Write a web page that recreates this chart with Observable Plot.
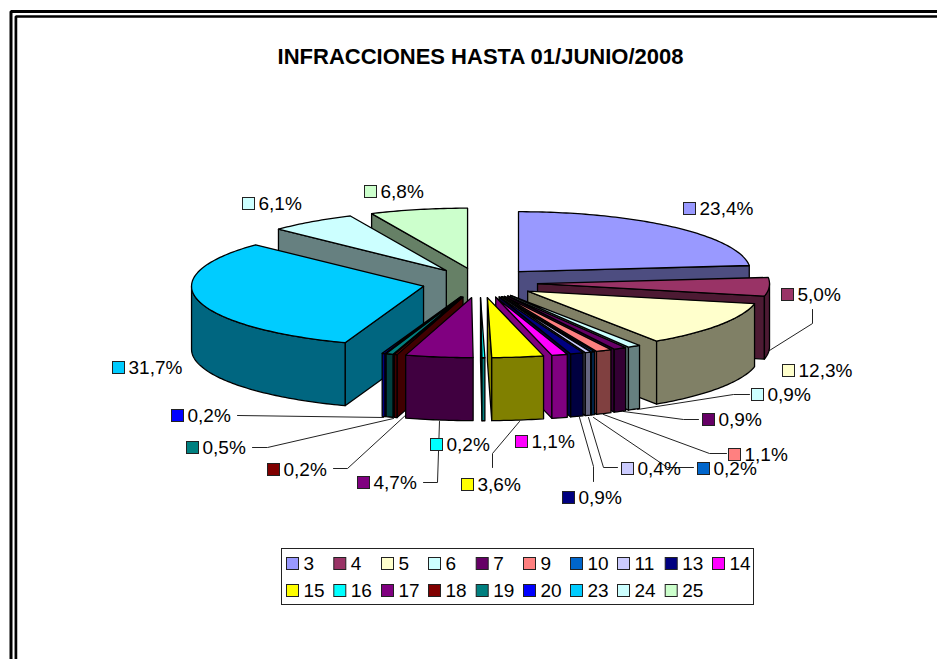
<!DOCTYPE html>
<html><head><meta charset="utf-8">
<script src="https://cdn.jsdelivr.net/npm/d3@7"></script>
<script src="https://cdn.jsdelivr.net/npm/@observablehq/plot@0.6"></script>
<style>html,body{margin:0;padding:0;background:#fff;overflow:hidden}svg{display:block}</style>
</head><body><div id="chart"></div>
<script>
// ---- data ----
const titleText = "INFRACCIONES HASTA 01/JUNIO/2008";
const categories = [3,4,5,6,7,9,10,11,13,14,15,16,17,18,19,20,23,24,25];
const percents = [23.4,5.0,12.3,0.9,0.9,1.1,0.2,0.4,0.9,1.1,3.6,0.2,4.7,0.2,0.5,0.2,31.7,6.1,6.8];
const colors = ["#9999FF","#993366","#FFFFCC","#CCFFFF","#660066","#FF8080","#0066CC","#CCCCFF","#000080","#FF00FF","#FFFF00","#00FFFF","#800080","#800000","#008080","#0000FF","#00CCFF","#CCFFFF","#CCFFCC"];

// ---- layout (pixels) ----
const W = 937, H = 659;
const pie = {cx:479.3, cy:282.3, rx:232, ry:60, depth:63, explode:57.8};
const labelSwatchX = [683,781,782,751,702,728,697,621,562,515,461,430,357,267,186,171,112,242,364];
const labelY       = [208,294,370,394,419,454,468,468,497,441,484,444,482,469,447,415,367,203,191];
const leaders = [
  [[769,350],[812,323],[812,309]],
  [[637,409],[733,394],[749,394]],
  [[623,411],[683,419],[698,419]],
  [[603,414],[709,453],[726,453]],
  [[593,417],[667,467],[693,467]],
  [[588,417],[603,467],[617,467]],
  [[579,417],[593,466],[593,481]],
  [[519,421],[492,453],[492,467]],
  [[439,421],[437,482],[423,482]],
  [[407,413],[347,468],[333,468]],
  [[393,418],[267,447],[252,447]],
  [[383,417],[237,415]]
];
const legendBox = {x1:281.5,x2:753.5,y1:548.5,y2:604.5};
const legendCols = [286,333.3,381,428,475.7,523,570,617,664.7,712];
const legendRows = [563,590];
const frames = [
  {w:3,   pts:[[10.5,H+5],[10.5,11],[W+5,11]]},
  {w:2.7, pts:[[15.4,H+5],[15.4,16],[W+5,16]]}
];
const fontFamily = "'Liberation Sans', Arial, sans-serif";

// scales are in pie units: radius = 1 horizontally and vertically (y up)
const ux = p => (p - pie.cx) / pie.rx;
const uy = p => (pie.cy - p) / pie.ry;
const depth = pie.depth / pie.ry;

// ---- slices ----
const total = d3.sum(percents);
let acc = 0;
const slices = percents.map((v,i) => {
  const a = acc / total * 2 * Math.PI; acc += v;
  const b = acc / total * 2 * Math.PI;
  const m = (a + b) / 2;
  const c = d3.rgb(colors[i]);
  return {i, a, b, m, top:colors[i],
    side:d3.rgb(c.r/2, c.g/2, c.b/2).formatHex(),
    ox: pie.explode * Math.sin(m) / pie.rx,
    oy: pie.explode * Math.cos(m) * (pie.ry / pie.rx) / pie.ry};
});
const order = d3.sort(slices, s => -s.oy);

const faces = [];
function addFace(id, fill, pts){
  pts.forEach(p => faces.push({face:id, fill, x:p[0], y:p[1]}));
  faces.push({face:id, fill, x:pts[0][0], y:pts[0][1]});
}
function arc(s, from, to, dy){
  const n = Math.max(1, Math.ceil(Math.abs(to - from) / (Math.PI / 180)));
  return d3.range(n + 1).map(k => {
    const t = from + (to - from) * k / n;
    return [s.ox + Math.sin(t), s.oy + Math.cos(t) + dy];
  });
}
for (const s of order) {
  const o = [s.ox, s.oy], o2 = [s.ox, s.oy - depth];
  const edge = (t, dy) => [s.ox + Math.sin(t), s.oy + Math.cos(t) + dy];
  if (s.a > Math.PI) addFace(`w1-${s.i}`, s.side, [o, edge(s.a,0), edge(s.a,-depth), o2]);
  if (s.b < Math.PI) addFace(`w2-${s.i}`, s.side, [o, edge(s.b,0), edge(s.b,-depth), o2]);
  const lo = Math.max(s.a, Math.PI/2), hi = Math.min(s.b, 3*Math.PI/2);
  if (hi > lo) addFace(`o-${s.i}`, s.side, [...arc(s,lo,hi,0), ...arc(s,hi,lo,-depth)]);
  addFace(`t-${s.i}`, s.top, [o, ...arc(s,s.a,s.b,0)]);
}

// ---- annotation tables ----
const fmt = v => v.toFixed(1).replace(".", ",") + "%";
const labels = percents.map((v,i) => ({text:fmt(v), fill:colors[i], x:labelSwatchX[i], y:labelY[i]}));
const legend = categories.map((c,i) => ({
  text:String(c), fill:colors[i],
  x:legendCols[i % 10], y:legendRows[Math.floor(i / 10)]
}));
const polyRows = (arr, getPts) => arr.flatMap((d,i) => getPts(d).map(p => ({g:i, x:ux(p[0]), y:uy(p[1])})));

const swatchMark = (rows, s) => Plot.rect(rows, {
  x1:d => ux(d.x + .5), x2:d => ux(d.x + .5 + s),
  y1:d => uy(Math.round(d.y) - s/2 + .5), y2:d => uy(Math.round(d.y) + s/2 + .5),
  fill:"fill", stroke:"#222", strokeWidth:1
});

const chart = Plot.plot({
  width:W, height:H, margin:0,
  style:{background:"#fff", fontFamily},
  x:{domain:[ux(0), ux(W)], range:[0,W], axis:null},
  y:{domain:[uy(H), uy(0)], range:[H,0], axis:null},
  color:{type:"identity"},
  marks:[
    ...frames.map(f => Plot.line(f.pts, {x:p=>ux(p[0]), y:p=>uy(p[1]), stroke:"#000", strokeWidth:f.w, strokeLinejoin:"miter"})),
    Plot.text([titleText], {x:ux(480), y:uy(56), text:d=>d, fontSize:22, fontWeight:"bold", fill:"#000", fontFamily}),
    Plot.line(polyRows(leaders, d=>d), {x:"x", y:"y", z:"g", stroke:"#222", strokeWidth:1}),
    Plot.line(faces, {x:"x", y:"y", z:"face", fill:"fill", stroke:"#000", strokeWidth:1.3, strokeLinejoin:"round"}),
    swatchMark(labels, 12),
    Plot.text(labels, {x:d=>ux(d.x+16), y:d=>uy(d.y), text:"text", textAnchor:"start", fontSize:19, fill:"#000", fontFamily}),
    Plot.rect([legendBox], {x1:d=>ux(d.x1), x2:d=>ux(d.x2), y1:d=>uy(d.y1), y2:d=>uy(d.y2), fill:"none", stroke:"#222", strokeWidth:1}),
    swatchMark(legend, 12),
    Plot.text(legend, {x:d=>ux(d.x+17), y:d=>uy(d.y), text:"text", textAnchor:"start", fontSize:19, fill:"#000", fontFamily})
  ]
});
document.getElementById("chart").appendChild(chart);
</script></body></html>
